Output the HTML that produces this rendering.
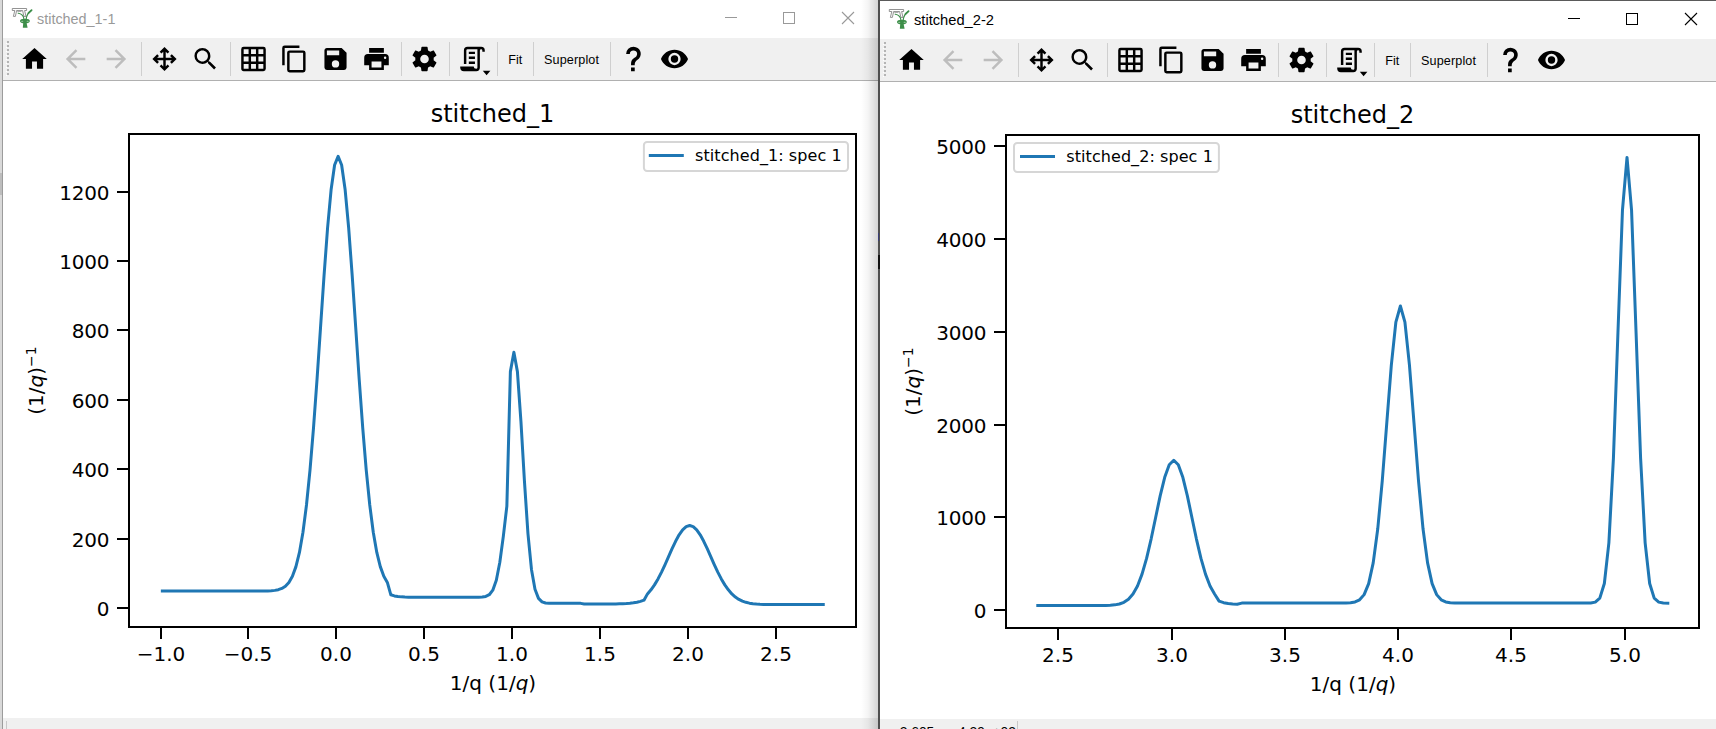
<!DOCTYPE html>
<html><head><meta charset="utf-8"><title>stitched</title>
<style>
html,body{margin:0;padding:0;background:#fff;}
body{width:1716px;height:729px;position:relative;overflow:hidden;font-family:'Liberation Sans',sans-serif;}
.abs{position:absolute;}
svg text{font-family:'DejaVu Sans','Liberation Sans',sans-serif;fill:#000;}
svg text.ui{font-family:'Liberation Sans',sans-serif;font-size:12.6px;}
.tt{position:absolute;font-size:14.4px;line-height:20px;white-space:nowrap;}
</style></head><body>
<!-- window 1 chrome -->
<div class="abs" style="left:0;top:0;width:878px;height:38px;background:#fff"></div>
<div class="abs" style="left:0;top:38px;width:878px;height:42px;background:#f0f0f0"></div>
<div class="abs" style="left:0;top:80px;width:878px;height:1px;background:#b0b0b0"></div>
<div class="abs" style="left:0;top:718px;width:878px;height:11px;background:#f0f0f0"></div>
<div class="abs" style="left:6px;top:721px;width:1px;height:8px;background:#c8c8c8"></div>
<div class="abs" style="left:0;top:0;width:2px;height:729px;background:#d9d9d9"></div>
<div class="abs" style="left:2px;top:0;width:1px;height:729px;background:#9c9c9c"></div>
<div class="abs" style="left:0;top:173px;width:2px;height:22px;background:#bdbdbd"></div>
<div class="tt" style="left:37px;top:8.7px;color:#999">stitched_1-1</div>
<!-- shadow of window 2 -->
<div class="abs" style="left:861px;top:0;width:17px;height:729px;background:linear-gradient(to right,rgba(0,0,0,0),rgba(0,0,0,0.04) 40%,rgba(0,0,0,0.17))"></div>
<!-- window 2 chrome -->
<div class="abs" style="left:878px;top:0;width:838px;height:729px;background:#fff"></div>
<div class="abs" style="left:878px;top:39px;width:838px;height:42px;background:#f0f0f0"></div>
<div class="abs" style="left:878px;top:81px;width:838px;height:1px;background:#b0b0b0"></div>
<div class="abs" style="left:878px;top:719px;width:838px;height:10px;background:#f0f0f0"></div>
<div class="abs" style="left:1017px;top:721px;width:1px;height:8px;background:#c8c8c8"></div>
<div class="abs" style="left:878px;top:0;width:838px;height:1px;background:#5a5a5a"></div>
<div class="abs" style="left:878px;top:0;width:2px;height:729px;background:#4f4f4f"></div>
<div class="abs" style="left:878px;top:255px;width:1.5px;height:14px;background:#111"></div>
<div class="abs" style="left:877.5px;top:233px;width:1.5px;height:8px;background:#3b3f78"></div>
<div class="tt" style="left:914px;top:9.8px;color:#000;font-size:14.7px">stitched_2-2</div>
<svg class="abs" style="left:0;top:0" width="1716" height="729" viewBox="0 0 1716 729">
<polyline points="162.35,591.04 165.86,591.04 169.38,591.04 172.89,591.04 176.41,591.04 179.92,591.04 183.44,591.04 186.95,591.04 190.47,591.04 193.98,591.04 197.50,591.04 201.02,591.04 204.53,591.04 208.05,591.04 211.56,591.04 215.08,591.04 218.59,591.04 222.11,591.04 225.62,591.04 229.14,591.04 232.65,591.04 236.17,591.04 239.69,591.04 243.20,591.04 246.72,591.04 250.23,591.04 253.75,591.03 257.26,591.03 260.78,591.01 264.29,590.97 267.81,590.89 271.33,590.72 274.84,590.37 278.36,589.69 281.87,588.44 285.39,586.21 288.90,582.41 292.42,576.24 295.93,566.64 299.45,552.39 302.96,532.22 306.48,505.02 310.00,470.19 313.51,427.92 317.03,379.48 320.54,327.42 324.06,275.43 327.57,228.01 331.09,189.82 334.60,165.02 338.12,156.41 341.63,165.02 345.15,189.82 348.67,228.01 352.18,275.43 355.70,327.42 359.21,379.48 362.73,427.92 366.24,470.19 369.76,505.02 373.27,532.22 376.79,552.39 380.30,566.64 383.82,576.24 387.34,582.41 390.85,594.79 394.37,595.90 397.88,596.53 401.40,596.87 404.91,597.04 408.43,597.13 411.94,597.17 415.46,597.19 418.98,597.20 422.49,597.20 426.01,597.20 429.52,597.20 433.04,597.20 436.55,597.20 440.07,597.20 443.58,597.20 447.10,597.20 450.61,597.20 454.13,597.20 457.65,597.20 461.16,597.20 464.68,597.20 468.19,597.20 471.71,597.20 475.22,597.19 478.74,597.16 482.25,597.01 485.77,596.45 489.28,594.71 492.80,590.16 496.32,580.22 499.83,562.31 503.35,536.11 506.86,506.06 510.38,371.64 513.89,352.34 517.41,371.64 520.92,421.09 524.44,481.18 527.95,533.57 531.47,569.40 534.99,589.28 538.50,598.39 542.02,601.87 545.53,602.98 549.05,603.28 552.56,603.35 556.08,603.37 559.59,603.37 563.11,603.37 566.62,603.37 570.14,603.37 573.66,603.37 577.17,603.37 580.69,603.37 584.20,603.98 587.72,603.98 591.23,603.98 594.75,603.98 598.26,603.98 601.78,603.97 605.30,603.97 608.81,603.95 612.33,603.93 615.84,603.89 619.36,603.83 622.87,603.72 626.39,603.54 629.90,603.27 633.42,602.85 636.93,602.24 640.45,601.38 643.97,600.20 647.48,593.89 651.00,589.86 654.51,584.88 658.03,578.92 661.54,572.09 665.06,564.56 668.57,556.64 672.09,548.72 675.60,541.28 679.12,534.82 682.64,529.80 686.15,526.62 689.67,525.53 693.18,526.62 696.70,529.80 700.21,534.82 703.73,541.28 707.24,548.72 710.76,556.64 714.27,564.56 717.79,572.09 721.31,578.92 724.82,584.88 728.34,589.86 731.85,593.89 735.37,597.03 738.88,599.39 742.40,601.12 745.91,602.33 749.43,603.16 752.95,603.71 756.46,604.07 759.98,604.29 763.49,604.42 767.01,604.50 770.52,604.54 774.04,604.56 777.55,604.58 781.07,604.58 784.58,604.59 788.10,604.59 791.62,604.59 795.13,604.59 798.65,604.59 802.16,604.59 805.68,604.59 809.19,604.59 812.71,604.59 816.22,604.59 819.74,604.59 823.25,604.59" fill="none" stroke="#1f77b4" stroke-width="3" stroke-linejoin="round" stroke-linecap="square"/>
<rect x="129" y="134" width="727" height="493" fill="none" stroke="#000" stroke-width="2"/>
<rect x="160" y="627" width="2" height="12" fill="#000"/>
<text x="161.0" y="661.2" font-size="20" text-anchor="middle">−1.0</text>
<rect x="247" y="627" width="2" height="12" fill="#000"/>
<text x="248.0" y="661.2" font-size="20" text-anchor="middle">−0.5</text>
<rect x="335" y="627" width="2" height="12" fill="#000"/>
<text x="336.0" y="661.2" font-size="20" text-anchor="middle">0.0</text>
<rect x="423" y="627" width="2" height="12" fill="#000"/>
<text x="424.0" y="661.2" font-size="20" text-anchor="middle">0.5</text>
<rect x="511" y="627" width="2" height="12" fill="#000"/>
<text x="512.0" y="661.2" font-size="20" text-anchor="middle">1.0</text>
<rect x="599" y="627" width="2" height="12" fill="#000"/>
<text x="600.0" y="661.2" font-size="20" text-anchor="middle">1.5</text>
<rect x="687" y="627" width="2" height="12" fill="#000"/>
<text x="688.0" y="661.2" font-size="20" text-anchor="middle">2.0</text>
<rect x="775" y="627" width="2" height="12" fill="#000"/>
<text x="776.0" y="661.2" font-size="20" text-anchor="middle">2.5</text>
<rect x="117" y="607" width="12" height="2" fill="#000"/>
<text x="109.3" y="615.6" font-size="20" text-anchor="end" letter-spacing="-0.2">0</text>
<rect x="117" y="538" width="12" height="2" fill="#000"/>
<text x="109.3" y="546.6" font-size="20" text-anchor="end" letter-spacing="-0.2">200</text>
<rect x="117" y="468" width="12" height="2" fill="#000"/>
<text x="109.3" y="476.6" font-size="20" text-anchor="end" letter-spacing="-0.2">400</text>
<rect x="117" y="399" width="12" height="2" fill="#000"/>
<text x="109.3" y="407.6" font-size="20" text-anchor="end" letter-spacing="-0.2">600</text>
<rect x="117" y="329" width="12" height="2" fill="#000"/>
<text x="109.3" y="337.6" font-size="20" text-anchor="end" letter-spacing="-0.2">800</text>
<rect x="117" y="260" width="12" height="2" fill="#000"/>
<text x="109.3" y="268.6" font-size="20" text-anchor="end" letter-spacing="-0.2">1000</text>
<rect x="117" y="191" width="12" height="2" fill="#000"/>
<text x="109.3" y="199.6" font-size="20" text-anchor="end" letter-spacing="-0.2">1200</text>
<text x="492.5" y="122.0" font-size="24" text-anchor="middle">stitched_1</text>
<text x="493.0" y="690.0" font-size="20" text-anchor="middle">1/q (1/<tspan font-style="italic">q</tspan>)</text>
<text transform="translate(43.0,380.5) rotate(-90)" font-size="20" text-anchor="middle">(1/<tspan font-style="italic">q</tspan>)<tspan font-size="14" dy="-7.5">−1</tspan></text>
<rect x="643.9" y="142.0" width="204.1" height="29.0" rx="3.2" fill="#fff" stroke="#d6d6d6" stroke-width="2"/>
<line x1="650.3" y1="155.5" x2="682.3" y2="155.5" stroke="#1f77b4" stroke-width="3" stroke-linecap="square"/>
<text x="695.1" y="161.0" font-size="16" letter-spacing="0.07">stitched_1: spec 1</text>
<polyline points="1037.80,605.59 1042.33,605.59 1046.86,605.59 1051.40,605.59 1055.93,605.59 1060.46,605.59 1064.99,605.59 1069.53,605.59 1074.06,605.59 1078.59,605.59 1083.12,605.59 1087.66,605.59 1092.19,605.59 1096.72,605.57 1101.25,605.54 1105.79,605.46 1110.32,605.27 1114.85,604.85 1119.38,603.98 1123.92,602.28 1128.45,599.21 1132.98,594.03 1137.51,585.92 1142.04,574.16 1146.58,558.41 1151.11,539.05 1155.64,517.44 1160.17,495.89 1164.71,477.33 1169.24,464.73 1173.77,460.25 1178.30,464.73 1182.84,477.33 1187.37,495.89 1191.90,517.44 1196.43,539.05 1200.97,558.41 1205.50,574.16 1210.03,585.92 1214.56,594.03 1219.09,601.16 1223.63,602.70 1228.16,603.55 1232.69,603.98 1237.22,604.19 1241.76,603.12 1246.29,603.12 1250.82,603.12 1255.35,603.12 1259.89,603.12 1264.42,603.12 1268.95,603.12 1273.48,603.12 1278.02,603.12 1282.55,603.12 1287.08,603.12 1291.61,603.12 1296.15,603.12 1300.68,603.12 1305.21,603.12 1309.74,603.12 1314.27,603.12 1318.81,603.12 1323.34,603.12 1327.87,603.12 1332.40,603.12 1336.94,603.11 1341.47,603.09 1346.00,603.02 1350.53,602.76 1355.07,601.97 1359.60,599.82 1364.13,594.63 1368.66,583.59 1373.20,562.90 1377.73,529.02 1382.26,480.96 1386.79,422.89 1391.33,365.19 1395.86,322.04 1400.39,305.98 1404.92,322.04 1409.45,365.19 1413.99,422.89 1418.52,480.96 1423.05,529.02 1427.58,562.90 1432.12,583.59 1436.65,594.63 1441.18,599.82 1445.71,601.97 1450.25,602.76 1454.78,603.02 1459.31,603.09 1463.84,603.11 1468.38,603.12 1472.91,603.12 1477.44,603.12 1481.97,603.12 1486.51,603.12 1491.04,603.12 1495.57,603.12 1500.10,603.12 1504.63,603.12 1509.17,603.12 1513.70,603.12 1518.23,603.12 1522.76,603.12 1527.30,603.12 1531.83,603.12 1536.36,603.12 1540.89,603.12 1545.43,603.12 1549.96,603.12 1554.49,603.12 1559.02,603.12 1563.56,603.12 1568.09,603.12 1572.62,603.12 1577.15,603.12 1581.68,603.12 1586.22,603.10 1590.75,602.97 1595.28,602.14 1599.81,598.17 1604.35,583.53 1608.88,542.80 1613.41,458.42 1617.94,332.78 1622.48,209.78 1627.01,157.41 1631.54,209.78 1636.07,332.78 1640.61,458.42 1645.14,542.80 1649.67,583.53 1654.20,598.17 1658.74,602.14 1663.27,602.97 1667.80,603.10" fill="none" stroke="#1f77b4" stroke-width="3" stroke-linejoin="round" stroke-linecap="square"/>
<rect x="1006" y="135" width="693" height="493" fill="none" stroke="#000" stroke-width="2"/>
<rect x="1057" y="628" width="2" height="12" fill="#000"/>
<text x="1058.0" y="662.2" font-size="20" text-anchor="middle">2.5</text>
<rect x="1171" y="628" width="2" height="12" fill="#000"/>
<text x="1172.0" y="662.2" font-size="20" text-anchor="middle">3.0</text>
<rect x="1284" y="628" width="2" height="12" fill="#000"/>
<text x="1285.0" y="662.2" font-size="20" text-anchor="middle">3.5</text>
<rect x="1397" y="628" width="2" height="12" fill="#000"/>
<text x="1398.0" y="662.2" font-size="20" text-anchor="middle">4.0</text>
<rect x="1510" y="628" width="2" height="12" fill="#000"/>
<text x="1511.0" y="662.2" font-size="20" text-anchor="middle">4.5</text>
<rect x="1624" y="628" width="2" height="12" fill="#000"/>
<text x="1625.0" y="662.2" font-size="20" text-anchor="middle">5.0</text>
<rect x="994" y="609" width="12" height="2" fill="#000"/>
<text x="986.3" y="617.6" font-size="20" text-anchor="end" letter-spacing="-0.2">0</text>
<rect x="994" y="516" width="12" height="2" fill="#000"/>
<text x="986.3" y="524.6" font-size="20" text-anchor="end" letter-spacing="-0.2">1000</text>
<rect x="994" y="424" width="12" height="2" fill="#000"/>
<text x="986.3" y="432.6" font-size="20" text-anchor="end" letter-spacing="-0.2">2000</text>
<rect x="994" y="331" width="12" height="2" fill="#000"/>
<text x="986.3" y="339.6" font-size="20" text-anchor="end" letter-spacing="-0.2">3000</text>
<rect x="994" y="238" width="12" height="2" fill="#000"/>
<text x="986.3" y="246.6" font-size="20" text-anchor="end" letter-spacing="-0.2">4000</text>
<rect x="994" y="145" width="12" height="2" fill="#000"/>
<text x="986.3" y="153.6" font-size="20" text-anchor="end" letter-spacing="-0.2">5000</text>
<text x="1352.5" y="123.0" font-size="24" text-anchor="middle">stitched_2</text>
<text x="1353.0" y="691.0" font-size="20" text-anchor="middle">1/q (1/<tspan font-style="italic">q</tspan>)</text>
<text transform="translate(920.0,381.5) rotate(-90)" font-size="20" text-anchor="middle">(1/<tspan font-style="italic">q</tspan>)<tspan font-size="14" dy="-7.5">−1</tspan></text>
<rect x="1014.0" y="143.0" width="204.9" height="29.0" rx="3.2" fill="#fff" stroke="#d6d6d6" stroke-width="2"/>
<line x1="1021.5" y1="156.5" x2="1053.5" y2="156.5" stroke="#1f77b4" stroke-width="3" stroke-linecap="square"/>
<text x="1066.3" y="162.0" font-size="16" letter-spacing="0.07">stitched_2: spec 1</text>
<path transform="translate(19.75,44.25) scale(1.2292)" fill="#000" d="M10,20V14H14V20H19V12H22L12,3L2,12H5V20H10Z"/>
<path transform="translate(60.75,44.25) scale(1.2292)" fill="#bdbdbd" d="M20,11V13H8L13.5,18.5L12.08,19.92L4.16,12L12.08,4.08L13.5,5.5L8,11H20Z"/>
<path transform="translate(101.75,44.25) scale(1.2292)" fill="#bdbdbd" d="M4,11V13H16L10.5,18.5L11.92,19.92L19.84,12L11.92,4.08L10.5,5.5L16,11H4Z"/>
<path transform="translate(149.75,44.25) scale(1.2292)" fill="#000" d="M13,11H18L16.5,9.5L17.92,8.08L21.84,12L17.92,15.92L16.5,14.5L18,13H13V18L14.5,16.5L15.92,17.92L12,21.84L8.08,17.92L9.5,16.5L11,18V13H6L7.5,14.5L6.08,15.92L2.16,12L6.08,8.08L7.5,9.5L6,11H11V6L9.5,7.5L8.08,6.08L12,2.16L15.92,6.08L14.5,7.5L13,6V11Z"/>
<path transform="translate(190.75,44.25) scale(1.2292)" fill="#000" d="M9.5,3A6.5,6.5 0 0,1 16,9.5C16,11.11 15.41,12.59 14.44,13.73L14.71,14H15.5L20.5,19L19,20.5L14,15.5V14.71L13.73,14.44C12.59,15.41 11.11,16 9.5,16A6.5,6.5 0 0,1 3,9.5A6.5,6.5 0 0,1 9.5,3M9.5,5C7,5 5,7 5,9.5C5,12 7,14 9.5,14C12,14 14,12 14,9.5C14,7 12,5 9.5,5Z"/>
<path transform="translate(238.75,44.25) scale(1.2292)" fill="#000" d="M10,4V8H14V4H10M16,4V8H20V4H16M16,10V14H20V10H16M16,16V20H20V16H16M14,20V16H10V20H14M8,20V16H4V20H8M8,14V10H4V14H8M8,8V4H4V8H8M10,14H14V10H10V14M4,2H20A2,2 0 0,1 22,4V20A2,2 0 0,1 20,22H4C2.92,22 2,21.1 2,20V4A2,2 0 0,1 4,2Z"/>
<path transform="translate(279.75,44.25) scale(1.2292)" fill="#000" d="M19,21H8V7H19M19,5H8A2,2 0 0,0 6,7V21A2,2 0 0,0 8,23H19A2,2 0 0,0 21,21V7A2,2 0 0,0 19,5M16,1H4A2,2 0 0,0 2,3V17H4V3H16V1Z"/>
<path transform="translate(320.75,44.25) scale(1.2292)" fill="#000" d="M15,9H5V5H15M12,19A3,3 0 0,1 9,16A3,3 0 0,1 12,13A3,3 0 0,1 15,16A3,3 0 0,1 12,19M17,3H5C3.89,3 3,3.9 3,5V19A2,2 0 0,0 5,21H19A2,2 0 0,0 21,19V7L17,3Z"/>
<path transform="translate(361.75,44.25) scale(1.2292)" fill="#000" d="M18,3H6V7H18M19,12A1,1 0 0,1 18,11A1,1 0 0,1 19,10A1,1 0 0,1 20,11A1,1 0 0,1 19,12M16,19H8V14H16M19,8H5A3,3 0 0,0 2,11V17H6V21H18V17H22V11A3,3 0 0,0 19,8Z"/>
<path transform="translate(409.75,44.25) scale(1.2292)" fill="#000" d="M12,15.5A3.5,3.5 0 0,1 8.5,12A3.5,3.5 0 0,1 12,8.5A3.5,3.5 0 0,1 15.5,12A3.5,3.5 0 0,1 12,15.5M19.43,12.97C19.47,12.65 19.5,12.33 19.5,12C19.5,11.67 19.47,11.34 19.43,11L21.54,9.37C21.73,9.22 21.78,8.95 21.66,8.73L19.66,5.27C19.54,5.05 19.27,4.96 19.05,5.05L16.56,6.05C16.04,5.66 15.5,5.32 14.87,5.07L14.5,2.42C14.46,2.18 14.25,2 14,2H10C9.75,2 9.54,2.18 9.5,2.42L9.13,5.07C8.5,5.32 7.96,5.66 7.44,6.05L4.95,5.05C4.73,4.96 4.46,5.05 4.34,5.27L2.34,8.73C2.21,8.95 2.27,9.22 2.46,9.37L4.57,11C4.53,11.34 4.5,11.67 4.5,12C4.5,12.33 4.53,12.65 4.57,12.97L2.46,14.63C2.27,14.78 2.21,15.05 2.34,15.27L4.34,18.73C4.46,18.95 4.73,19.03 4.95,18.95L7.44,17.94C7.96,18.34 8.5,18.68 9.13,18.93L9.5,21.58C9.54,21.82 9.75,22 10,22H14C14.25,22 14.46,21.82 14.5,21.58L14.87,18.93C15.5,18.67 16.04,18.34 16.56,17.94L19.05,18.95C19.27,19.03 19.54,18.95 19.66,18.73L21.66,15.27C21.78,15.05 21.73,14.78 21.54,14.63L19.43,12.97Z"/>
<path transform="translate(457.75,44.25) scale(1.2292)" fill="#000" d="M15,20A1,1 0 0,0 16,19V4H8A1,1 0 0,0 7,5V16H5V5A3,3 0 0,1 8,2H19A3,3 0 0,1 22,5V6H20V5A1,1 0 0,0 19,4A1,1 0 0,0 18,5V9L18,19A3,3 0 0,1 15,22H5A3,3 0 0,1 2,19V18H13A2,2 0 0,0 15,20M9,6H14V8H9V6M9,10H14V12H9V10M9,14H14V16H9V14Z"/>
<path transform="translate(618.75,44.25) scale(1.2292)" fill="#000" d="M10,19H13V22H10V19M12,2C17.35,2.22 19.68,7.62 16.5,11.67C15.67,12.67 14.33,13.33 13.67,14.17C13,15 13,16 13,17H10C10,15.33 10,13.92 10.67,12.92C11.33,11.92 12.67,11.33 13.5,10.67C15.92,8.43 15.32,5.26 12,5A3,3 0 0,0 9,8H6A6,6 0 0,1 12,2Z"/>
<path transform="translate(659.75,44.25) scale(1.2292)" fill="#000" d="M12,9A3,3 0 0,0 9,12A3,3 0 0,0 12,15A3,3 0 0,0 15,12A3,3 0 0,0 12,9M12,17A5,5 0 0,1 7,12A5,5 0 0,1 12,7A5,5 0 0,1 17,12A5,5 0 0,1 12,17M12,4.5C7,4.5 2.73,7.61 1,12C2.73,16.39 7,19.5 12,19.5C17,19.5 21.27,16.39 23,12C21.27,7.61 17,4.5 12,4.5Z"/>
<rect x="141" y="42" width="1" height="34" fill="#cfcfcf"/>
<rect x="230" y="42" width="1" height="34" fill="#cfcfcf"/>
<rect x="401" y="42" width="1" height="34" fill="#cfcfcf"/>
<rect x="449" y="42" width="1" height="34" fill="#cfcfcf"/>
<rect x="497" y="42" width="1" height="34" fill="#cfcfcf"/>
<rect x="533" y="42" width="1" height="34" fill="#cfcfcf"/>
<rect x="610" y="42" width="1" height="34" fill="#cfcfcf"/>
<rect x="7.0" y="41.0" width="2" height="2" fill="#b4b4b4"/>
<rect x="6.0" y="43.0" width="1" height="1" fill="#fff"/>
<rect x="7.0" y="45.0" width="2" height="2" fill="#b4b4b4"/>
<rect x="6.0" y="47.0" width="1" height="1" fill="#fff"/>
<rect x="7.0" y="49.0" width="2" height="2" fill="#b4b4b4"/>
<rect x="6.0" y="51.0" width="1" height="1" fill="#fff"/>
<rect x="7.0" y="53.0" width="2" height="2" fill="#b4b4b4"/>
<rect x="6.0" y="55.0" width="1" height="1" fill="#fff"/>
<rect x="7.0" y="57.0" width="2" height="2" fill="#b4b4b4"/>
<rect x="6.0" y="59.0" width="1" height="1" fill="#fff"/>
<rect x="7.0" y="61.0" width="2" height="2" fill="#b4b4b4"/>
<rect x="6.0" y="63.0" width="1" height="1" fill="#fff"/>
<rect x="7.0" y="65.0" width="2" height="2" fill="#b4b4b4"/>
<rect x="6.0" y="67.0" width="1" height="1" fill="#fff"/>
<rect x="7.0" y="69.0" width="2" height="2" fill="#b4b4b4"/>
<rect x="6.0" y="71.0" width="1" height="1" fill="#fff"/>
<rect x="7.0" y="73.0" width="2" height="2" fill="#b4b4b4"/>
<rect x="6.0" y="75.0" width="1" height="1" fill="#fff"/>
<path d="M482.8,70.8 h7.6 l-3.8,4.4 z" fill="#000"/>
<text x="508.3" y="63.7" class="ui">Fit</text>
<text x="544.0" y="63.7" class="ui" letter-spacing="0.13">Superplot</text>
<path transform="translate(896.75,45.25) scale(1.2292)" fill="#000" d="M10,20V14H14V20H19V12H22L12,3L2,12H5V20H10Z"/>
<path transform="translate(937.75,45.25) scale(1.2292)" fill="#bdbdbd" d="M20,11V13H8L13.5,18.5L12.08,19.92L4.16,12L12.08,4.08L13.5,5.5L8,11H20Z"/>
<path transform="translate(978.75,45.25) scale(1.2292)" fill="#bdbdbd" d="M4,11V13H16L10.5,18.5L11.92,19.92L19.84,12L11.92,4.08L10.5,5.5L16,11H4Z"/>
<path transform="translate(1026.75,45.25) scale(1.2292)" fill="#000" d="M13,11H18L16.5,9.5L17.92,8.08L21.84,12L17.92,15.92L16.5,14.5L18,13H13V18L14.5,16.5L15.92,17.92L12,21.84L8.08,17.92L9.5,16.5L11,18V13H6L7.5,14.5L6.08,15.92L2.16,12L6.08,8.08L7.5,9.5L6,11H11V6L9.5,7.5L8.08,6.08L12,2.16L15.92,6.08L14.5,7.5L13,6V11Z"/>
<path transform="translate(1067.75,45.25) scale(1.2292)" fill="#000" d="M9.5,3A6.5,6.5 0 0,1 16,9.5C16,11.11 15.41,12.59 14.44,13.73L14.71,14H15.5L20.5,19L19,20.5L14,15.5V14.71L13.73,14.44C12.59,15.41 11.11,16 9.5,16A6.5,6.5 0 0,1 3,9.5A6.5,6.5 0 0,1 9.5,3M9.5,5C7,5 5,7 5,9.5C5,12 7,14 9.5,14C12,14 14,12 14,9.5C14,7 12,5 9.5,5Z"/>
<path transform="translate(1115.75,45.25) scale(1.2292)" fill="#000" d="M10,4V8H14V4H10M16,4V8H20V4H16M16,10V14H20V10H16M16,16V20H20V16H16M14,20V16H10V20H14M8,20V16H4V20H8M8,14V10H4V14H8M8,8V4H4V8H8M10,14H14V10H10V14M4,2H20A2,2 0 0,1 22,4V20A2,2 0 0,1 20,22H4C2.92,22 2,21.1 2,20V4A2,2 0 0,1 4,2Z"/>
<path transform="translate(1156.75,45.25) scale(1.2292)" fill="#000" d="M19,21H8V7H19M19,5H8A2,2 0 0,0 6,7V21A2,2 0 0,0 8,23H19A2,2 0 0,0 21,21V7A2,2 0 0,0 19,5M16,1H4A2,2 0 0,0 2,3V17H4V3H16V1Z"/>
<path transform="translate(1197.75,45.25) scale(1.2292)" fill="#000" d="M15,9H5V5H15M12,19A3,3 0 0,1 9,16A3,3 0 0,1 12,13A3,3 0 0,1 15,16A3,3 0 0,1 12,19M17,3H5C3.89,3 3,3.9 3,5V19A2,2 0 0,0 5,21H19A2,2 0 0,0 21,19V7L17,3Z"/>
<path transform="translate(1238.75,45.25) scale(1.2292)" fill="#000" d="M18,3H6V7H18M19,12A1,1 0 0,1 18,11A1,1 0 0,1 19,10A1,1 0 0,1 20,11A1,1 0 0,1 19,12M16,19H8V14H16M19,8H5A3,3 0 0,0 2,11V17H6V21H18V17H22V11A3,3 0 0,0 19,8Z"/>
<path transform="translate(1286.75,45.25) scale(1.2292)" fill="#000" d="M12,15.5A3.5,3.5 0 0,1 8.5,12A3.5,3.5 0 0,1 12,8.5A3.5,3.5 0 0,1 15.5,12A3.5,3.5 0 0,1 12,15.5M19.43,12.97C19.47,12.65 19.5,12.33 19.5,12C19.5,11.67 19.47,11.34 19.43,11L21.54,9.37C21.73,9.22 21.78,8.95 21.66,8.73L19.66,5.27C19.54,5.05 19.27,4.96 19.05,5.05L16.56,6.05C16.04,5.66 15.5,5.32 14.87,5.07L14.5,2.42C14.46,2.18 14.25,2 14,2H10C9.75,2 9.54,2.18 9.5,2.42L9.13,5.07C8.5,5.32 7.96,5.66 7.44,6.05L4.95,5.05C4.73,4.96 4.46,5.05 4.34,5.27L2.34,8.73C2.21,8.95 2.27,9.22 2.46,9.37L4.57,11C4.53,11.34 4.5,11.67 4.5,12C4.5,12.33 4.53,12.65 4.57,12.97L2.46,14.63C2.27,14.78 2.21,15.05 2.34,15.27L4.34,18.73C4.46,18.95 4.73,19.03 4.95,18.95L7.44,17.94C7.96,18.34 8.5,18.68 9.13,18.93L9.5,21.58C9.54,21.82 9.75,22 10,22H14C14.25,22 14.46,21.82 14.5,21.58L14.87,18.93C15.5,18.67 16.04,18.34 16.56,17.94L19.05,18.95C19.27,19.03 19.54,18.95 19.66,18.73L21.66,15.27C21.78,15.05 21.73,14.78 21.54,14.63L19.43,12.97Z"/>
<path transform="translate(1334.75,45.25) scale(1.2292)" fill="#000" d="M15,20A1,1 0 0,0 16,19V4H8A1,1 0 0,0 7,5V16H5V5A3,3 0 0,1 8,2H19A3,3 0 0,1 22,5V6H20V5A1,1 0 0,0 19,4A1,1 0 0,0 18,5V9L18,19A3,3 0 0,1 15,22H5A3,3 0 0,1 2,19V18H13A2,2 0 0,0 15,20M9,6H14V8H9V6M9,10H14V12H9V10M9,14H14V16H9V14Z"/>
<path transform="translate(1495.75,45.25) scale(1.2292)" fill="#000" d="M10,19H13V22H10V19M12,2C17.35,2.22 19.68,7.62 16.5,11.67C15.67,12.67 14.33,13.33 13.67,14.17C13,15 13,16 13,17H10C10,15.33 10,13.92 10.67,12.92C11.33,11.92 12.67,11.33 13.5,10.67C15.92,8.43 15.32,5.26 12,5A3,3 0 0,0 9,8H6A6,6 0 0,1 12,2Z"/>
<path transform="translate(1536.75,45.25) scale(1.2292)" fill="#000" d="M12,9A3,3 0 0,0 9,12A3,3 0 0,0 12,15A3,3 0 0,0 15,12A3,3 0 0,0 12,9M12,17A5,5 0 0,1 7,12A5,5 0 0,1 12,7A5,5 0 0,1 17,12A5,5 0 0,1 12,17M12,4.5C7,4.5 2.73,7.61 1,12C2.73,16.39 7,19.5 12,19.5C17,19.5 21.27,16.39 23,12C21.27,7.61 17,4.5 12,4.5Z"/>
<rect x="1018" y="43" width="1" height="34" fill="#cfcfcf"/>
<rect x="1107" y="43" width="1" height="34" fill="#cfcfcf"/>
<rect x="1278" y="43" width="1" height="34" fill="#cfcfcf"/>
<rect x="1326" y="43" width="1" height="34" fill="#cfcfcf"/>
<rect x="1374" y="43" width="1" height="34" fill="#cfcfcf"/>
<rect x="1410" y="43" width="1" height="34" fill="#cfcfcf"/>
<rect x="1487" y="43" width="1" height="34" fill="#cfcfcf"/>
<rect x="884.0" y="42.0" width="2" height="2" fill="#b4b4b4"/>
<rect x="883.0" y="44.0" width="1" height="1" fill="#fff"/>
<rect x="884.0" y="46.0" width="2" height="2" fill="#b4b4b4"/>
<rect x="883.0" y="48.0" width="1" height="1" fill="#fff"/>
<rect x="884.0" y="50.0" width="2" height="2" fill="#b4b4b4"/>
<rect x="883.0" y="52.0" width="1" height="1" fill="#fff"/>
<rect x="884.0" y="54.0" width="2" height="2" fill="#b4b4b4"/>
<rect x="883.0" y="56.0" width="1" height="1" fill="#fff"/>
<rect x="884.0" y="58.0" width="2" height="2" fill="#b4b4b4"/>
<rect x="883.0" y="60.0" width="1" height="1" fill="#fff"/>
<rect x="884.0" y="62.0" width="2" height="2" fill="#b4b4b4"/>
<rect x="883.0" y="64.0" width="1" height="1" fill="#fff"/>
<rect x="884.0" y="66.0" width="2" height="2" fill="#b4b4b4"/>
<rect x="883.0" y="68.0" width="1" height="1" fill="#fff"/>
<rect x="884.0" y="70.0" width="2" height="2" fill="#b4b4b4"/>
<rect x="883.0" y="72.0" width="1" height="1" fill="#fff"/>
<rect x="884.0" y="74.0" width="2" height="2" fill="#b4b4b4"/>
<rect x="883.0" y="76.0" width="1" height="1" fill="#fff"/>
<path d="M1359.8,71.8 h7.6 l-3.8,4.4 z" fill="#000"/>
<text x="1385.3" y="64.7" class="ui">Fit</text>
<text x="1421.0" y="64.7" class="ui" letter-spacing="0.13">Superplot</text>
<text x="884.8" y="736.9" class="ui" style="font-size:13.8px">x=2.605</text><text x="943" y="736.9" class="ui" style="font-size:13.8px">y=4.29e+02</text>
<g transform="translate(7.0,3.0)"><path d="M5.3,5.5 H19.6 V7.5 H17.6 L19,13.4 H16.9 L15.6,7.5 H9.6 L8.4,13.4 H6.4 L7.8,7.5 H5.3 Z" fill="#fff" stroke="#808080" stroke-width="0.85" stroke-linejoin="round"/><rect x="10.3" y="7.3" width="4.2" height="1.5" fill="#9a9a9a"/><path d="M16.9,16 C16.6,13 14.2,10.6 11.2,10.2" fill="none" stroke="#3d8e49" stroke-width="1.15" stroke-linecap="round"/><path d="M19.2,16 C19.5,12.6 21.3,9.6 24.3,7.5" fill="none" stroke="#3d8e49" stroke-width="1.25" stroke-linecap="round"/><path d="M21.4,10.2 L24.6,7.1" fill="none" stroke="#3d8e49" stroke-width="1.8" stroke-linecap="round"/><ellipse cx="17.9" cy="18.1" rx="4.9" ry="2.3" fill="#3d8e49"/><path d="M16.3,19.5 L19.5,19.5 L20.6,24.7 L15.8,24.7 Z" fill="#3d8e49"/><ellipse cx="15.2" cy="18.3" rx="1.1" ry="0.5" fill="#a5cdab"/><ellipse cx="20.7" cy="18.3" rx="1.1" ry="0.5" fill="#a5cdab"/></g>
<g transform="translate(884.0,4.0)"><path d="M5.3,5.5 H19.6 V7.5 H17.6 L19,13.4 H16.9 L15.6,7.5 H9.6 L8.4,13.4 H6.4 L7.8,7.5 H5.3 Z" fill="#fff" stroke="#808080" stroke-width="0.85" stroke-linejoin="round"/><rect x="10.3" y="7.3" width="4.2" height="1.5" fill="#9a9a9a"/><path d="M16.9,16 C16.6,13 14.2,10.6 11.2,10.2" fill="none" stroke="#3d8e49" stroke-width="1.15" stroke-linecap="round"/><path d="M19.2,16 C19.5,12.6 21.3,9.6 24.3,7.5" fill="none" stroke="#3d8e49" stroke-width="1.25" stroke-linecap="round"/><path d="M21.4,10.2 L24.6,7.1" fill="none" stroke="#3d8e49" stroke-width="1.8" stroke-linecap="round"/><ellipse cx="17.9" cy="18.1" rx="4.9" ry="2.3" fill="#3d8e49"/><path d="M16.3,19.5 L19.5,19.5 L20.6,24.7 L15.8,24.7 Z" fill="#3d8e49"/><ellipse cx="15.2" cy="18.3" rx="1.1" ry="0.5" fill="#a5cdab"/><ellipse cx="20.7" cy="18.3" rx="1.1" ry="0.5" fill="#a5cdab"/></g>
<rect x="725" y="17" width="12" height="1" fill="#999"/>
<rect x="783.5" y="12.5" width="11" height="11" fill="none" stroke="#999" stroke-width="1"/>
<path d="M842,12 l12,12 M854,12 l-12,12" stroke="#999" stroke-width="1.1" fill="none"/>
<rect x="1568" y="18" width="12" height="1" fill="#000"/>
<rect x="1626.5" y="13.5" width="11" height="11" fill="none" stroke="#000" stroke-width="1"/>
<path d="M1685,13 l12,12 M1697,13 l-12,12" stroke="#000" stroke-width="1.1" fill="none"/>
</svg>
</body></html>
